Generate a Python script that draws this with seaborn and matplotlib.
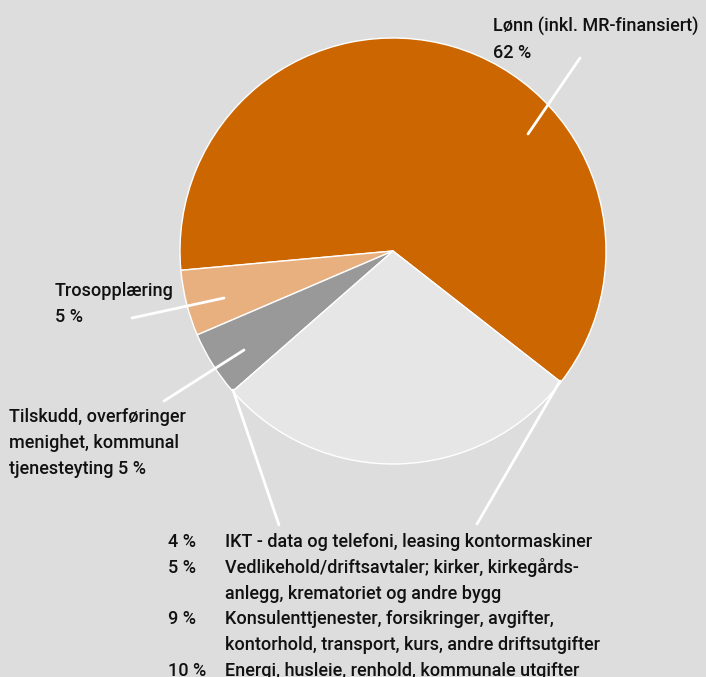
import matplotlib
matplotlib.use('Agg')
import matplotlib.pyplot as plt
import seaborn as sns

# data
labels = ['Lønn (inkl. MR-finansiert)\n62 %', 'Trosopplæring\n5 %',
          'Tilskudd, overføringer\nmenighet, kommunal\ntjenesteyting 5 %']
values = [62, 5, 5]
other_pcts = [4, 5, 9, 10]
other_texts = ['IKT - data og telefoni, leasing kontormaskiner',
               'Vedlikehold/driftsavtaler; kirker, kirkegårds-\nanlegg, krematoriet og andre bygg',
               'Konsulenttjenester, forsikringer, avgifter,\nkontorhold, transport, kurs, andre driftsutgifter',
               'Energi, husleie, renhold, kommunale utgifter']
colors = ['#cc6600', '#e8b07f', '#999999', '#e6e6e6']

sns.set_theme(style='white')
plt.rcParams['font.family'] = ['Roboto', 'DejaVu Sans']
bg = '#dcdddc'

fig = plt.figure(figsize=(7.06, 6.77), dpi=100, facecolor=bg)
ax = fig.add_axes([0, 0, 1, 1])
ax.set_facecolor(bg)

ax.pie(values + [sum(other_pcts)], colors=colors, startangle=-38, counterclock=True,
       center=(393, 426), radius=213, wedgeprops=dict(edgecolor='white', linewidth=1), frame=True)
ax.set_xlim(0, 706)
ax.set_ylim(0, 677)
ax.set_aspect('equal')
ax.axis('off')

fs = 13
tc = '#111111'
lw = 2
step = 25.8
kw = dict(fontsize=fs, va='baseline', ha='left', color=tc, fontweight='medium')


def block(x, y, txt):
    # one text per line so the baselines are exact
    for line in txt.split('\n'):
        ax.text(x, y, line, **kw)
        y -= step
    return y


# leader lines
ax.plot([528, 580], [677 - 134, 677 - 58], color='white', lw=lw)
ax.plot([224, 132], [677 - 298, 677 - 318], color='white', lw=lw)
ax.plot([244, 164], [677 - 350, 677 - 401], color='white', lw=lw)
ax.plot([233, 279], [677 - 390, 677 - 525], color='white', lw=lw)
ax.plot([560, 477], [677 - 381, 677 - 524], color='white', lw=lw)

block(493, 677 - 32, labels[0])
block(55, 677 - 296, labels[1])
block(9, 677 - 422, labels[2])

y = 677 - 547
for p, t in zip(other_pcts, other_texts):
    ax.text(168, y, f'{p} %', **kw)
    y = block(225, y, t)

fig.savefig('out.png', dpi=100, facecolor=bg)
